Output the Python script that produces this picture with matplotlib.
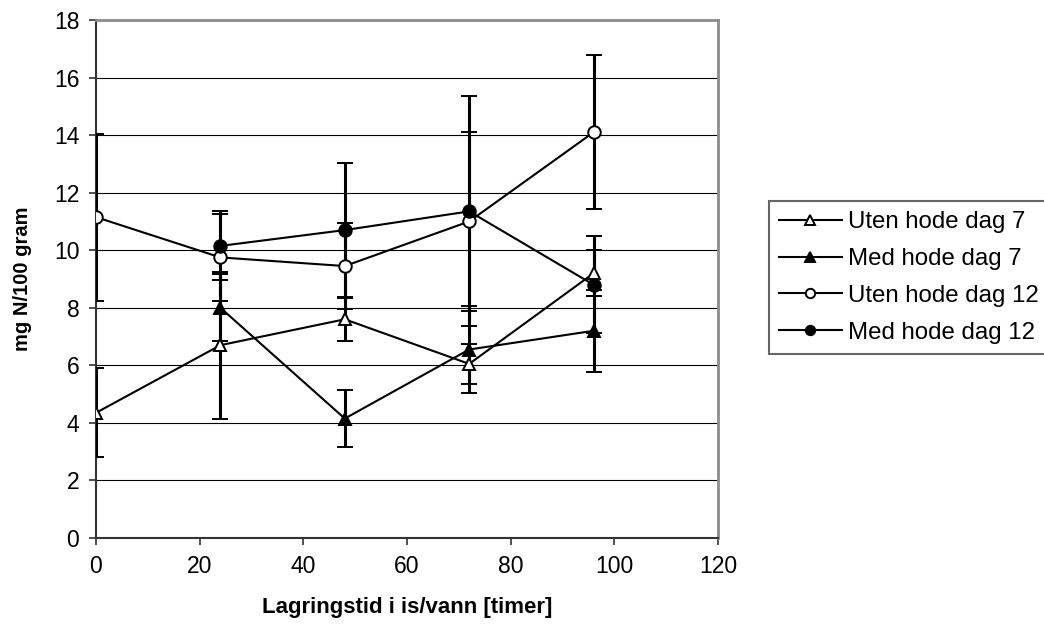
import numpy as np
import matplotlib.pyplot as plt

plt.rcParams['font.family'] = ['Liberation Sans', 'DejaVu Sans']

# timer i is/vann
x_all = [0, 24, 48, 72, 96]
x_med = [24, 48, 72, 96]

# mg N/100 gram, with error bars
uten_7 = [4.35, 6.7, 7.6, 6.05, 9.2]
uten_7_err = [1.55, 2.55, 0.75, 0.7, 0.8]
med_7 = [8.0, 4.15, 6.55, 7.2]
med_7_err = [1.16, 0.99, 1.5, 1.42]
uten_12 = [11.15, 9.75, 9.45, 11.0, 14.1]
uten_12_err = [2.9, 1.5, 1.48, 3.1, 2.68]
med_12 = [10.15, 10.7, 11.35, 8.8]
med_12_err = [1.2, 2.34, 4.0, 1.69]

labels = ["Uten hode dag 7", "Med hode dag 7", "Uten hode dag 12", "Med hode dag 12"]

fig = plt.figure(figsize=(10.44, 6.24), dpi=100)
ax = fig.add_axes([96/1044, 1-538/624, (718-96)/1044, (538-20)/624])

common = dict(color="black", ecolor="black", elinewidth=2.2, capsize=5.8,
              capthick=2.2, linewidth=1.5, markersize=9, mec="black", mew=1.4,
              zorder=3)

h1 = ax.errorbar(x_all, uten_7, yerr=uten_7_err, marker="^", mfc="white", **common)
h2 = ax.errorbar(x_med, med_7, yerr=med_7_err, marker="^", mfc="black", **common)
h3 = ax.errorbar(x_all, uten_12, yerr=uten_12_err, marker="o", mfc="white", **common)
h4 = ax.errorbar(x_med, med_12, yerr=med_12_err, marker="o", mfc="black", **common)

ax.set_xlim(0, 120)
ax.set_ylim(0, 18)
ax.set_xticks(np.arange(0, 121, 20))
ax.set_yticks(np.arange(0, 19, 2))
for y in range(2, 18, 2):
    ax.axhline(y, color="black", linewidth=0.8, zorder=1)

for side in ["left", "bottom"]:
    ax.spines[side].set_color("#333333")
    ax.spines[side].set_linewidth(1.5)
for side in ["top", "right"]:
    ax.spines[side].set_color("#8c8c8c")
    ax.spines[side].set_linewidth(2)
ax.tick_params(direction="out", length=5, width=1.2, color="#333333",
               labelsize=16.5, pad=7)

ax.set_xlabel("Lagringstid i is/vann [timer]", fontsize=16, fontweight="bold",
              labelpad=14)
ax.set_ylabel("mg N/100 gram", fontsize=14.5, fontweight="bold", labelpad=16)

leg = fig.legend([h1[0], h2[0], h3[0], h4[0]], labels,
                 loc="upper left", bbox_to_anchor=(769/1044, 1-201/624),
                 fontsize=17.3, frameon=True, fancybox=False, edgecolor="#404040",
                 handlelength=2.6, labelspacing=0.62, borderpad=0.42,
                 handletextpad=0.28, markerscale=0.75, borderaxespad=0)
leg.get_frame().set_linewidth(1.5)

fig.savefig("out.png", dpi=100)
